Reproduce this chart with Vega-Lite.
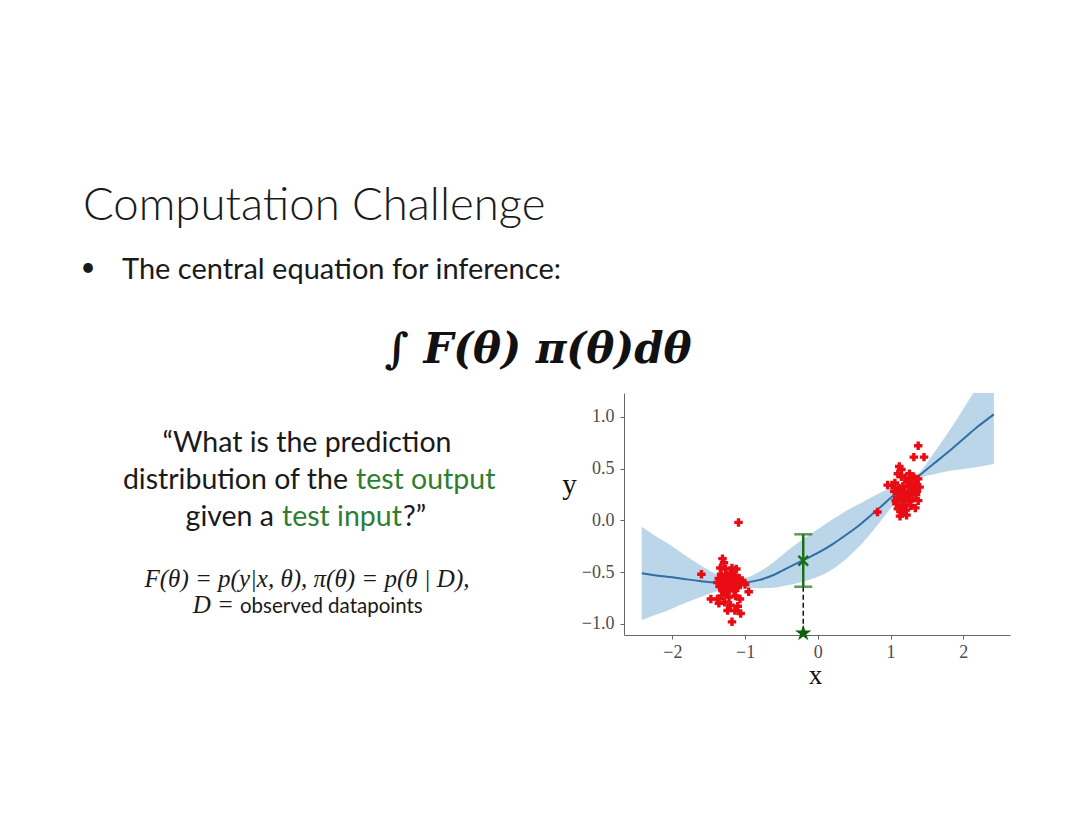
{
  "$schema": "https://vega.github.io/schema/vega-lite/v6.json",
  "background": "white",
  "padding": 0,
  "config": {"view": {"stroke": null}, "axis": {"grid": false}},
  "datasets": {
    "slide": [
      {"part": "title", "text": "Computation Challenge"},
      {"part": "bullet", "text": "•"},
      {"part": "lead", "text": "The central equation for inference:"},
      {"part": "equation", "text": "∫ F(θ) π(θ)dθ"}
    ],
    "quote": [
      {"seg": "q1", "text": "“What is the prediction"},
      {"seg": "q2a", "text": "distribution of the"},
      {"seg": "q2b", "text": "test output"},
      {"seg": "q3a", "text": "given a"},
      {"seg": "q3b", "text": "test input"},
      {"seg": "q3c", "text": "?”"},
      {"seg": "f1", "text": "F(θ) = p(y|x, θ), π(θ) = p(θ | D),"},
      {"seg": "f2a", "text": "D ="},
      {"seg": "f2b", "text": "observed datapoints"}
    ],
    "band": [
      {"x": -2.42, "lo": -0.962, "mean": -0.512, "hi": -0.062},
      {"x": -2.2, "lo": -0.905, "mean": -0.535, "hi": -0.165},
      {"x": -2.0, "lo": -0.85, "mean": -0.55, "hi": -0.25},
      {"x": -1.8, "lo": -0.79, "mean": -0.57, "hi": -0.35},
      {"x": -1.6, "lo": -0.738, "mean": -0.588, "hi": -0.438},
      {"x": -1.4, "lo": -0.688, "mean": -0.603, "hi": -0.518},
      {"x": -1.2, "lo": -0.653, "mean": -0.608, "hi": -0.563},
      {"x": -1.0, "lo": -0.645, "mean": -0.6, "hi": -0.555},
      {"x": -0.8, "lo": -0.655, "mean": -0.575, "hi": -0.495},
      {"x": -0.6, "lo": -0.65, "mean": -0.525, "hi": -0.4},
      {"x": -0.4, "lo": -0.625, "mean": -0.455, "hi": -0.285},
      {"x": -0.2, "lo": -0.59, "mean": -0.385, "hi": -0.18},
      {"x": 0.0, "lo": -0.545, "mean": -0.315, "hi": -0.085},
      {"x": 0.2, "lo": -0.472, "mean": -0.232, "hi": 0.008},
      {"x": 0.4, "lo": -0.365, "mean": -0.135, "hi": 0.095},
      {"x": 0.6, "lo": -0.23, "mean": -0.03, "hi": 0.17},
      {"x": 0.8, "lo": -0.065, "mean": 0.09, "hi": 0.245},
      {"x": 1.0, "lo": 0.115, "mean": 0.215, "hi": 0.315},
      {"x": 1.2, "lo": 0.28, "mean": 0.33, "hi": 0.38},
      {"x": 1.4, "lo": 0.405, "mean": 0.435, "hi": 0.465},
      {"x": 1.6, "lo": 0.445, "mean": 0.55, "hi": 0.655},
      {"x": 1.8, "lo": 0.475, "mean": 0.665, "hi": 0.855},
      {"x": 2.0, "lo": 0.495, "mean": 0.785, "hi": 1.075},
      {"x": 2.2, "lo": 0.515, "mean": 0.905, "hi": 1.295},
      {"x": 2.42, "lo": 0.543, "mean": 1.023, "hi": 1.503}
    ],
    "train": [
      {"x": -1.09, "y": -0.02}, {"x": -1.6, "y": -0.52}, {"x": -1.31, "y": -0.37}, {"x": -1.29, "y": -0.41},
      {"x": -1.34, "y": -0.46}, {"x": -1.27, "y": -0.47}, {"x": -1.18, "y": -0.46}, {"x": -1.12, "y": -0.47},
      {"x": -1.33, "y": -0.52}, {"x": -1.25, "y": -0.53}, {"x": -1.2, "y": -0.51}, {"x": -1.14, "y": -0.53},
      {"x": -1.36, "y": -0.56}, {"x": -1.3, "y": -0.57}, {"x": -1.22, "y": -0.56}, {"x": -1.16, "y": -0.58},
      {"x": -1.08, "y": -0.56}, {"x": -1.04, "y": -0.58}, {"x": -1.38, "y": -0.6}, {"x": -1.32, "y": -0.61},
      {"x": -1.27, "y": -0.62}, {"x": -1.21, "y": -0.6}, {"x": -1.13, "y": -0.61}, {"x": -1.06, "y": -0.6},
      {"x": -1.0, "y": -0.62}, {"x": -1.35, "y": -0.64}, {"x": -1.29, "y": -0.66}, {"x": -1.24, "y": -0.65},
      {"x": -1.18, "y": -0.64}, {"x": -1.1, "y": -0.65}, {"x": -0.95, "y": -0.69}, {"x": -1.31, "y": -0.68},
      {"x": -1.26, "y": -0.7}, {"x": -1.15, "y": -0.68}, {"x": -1.47, "y": -0.76}, {"x": -1.38, "y": -0.76},
      {"x": -1.36, "y": -0.8}, {"x": -1.22, "y": -0.74}, {"x": -1.13, "y": -0.73}, {"x": -1.07, "y": -0.76},
      {"x": -1.28, "y": -0.79}, {"x": -1.2, "y": -0.82}, {"x": -1.1, "y": -0.83}, {"x": -1.24, "y": -0.87},
      {"x": -1.14, "y": -0.87}, {"x": -1.06, "y": -0.9}, {"x": -1.18, "y": -0.98}, {"x": -1.32, "y": -0.73},
      {"x": -1.28, "y": -0.58}, {"x": -1.23, "y": -0.68},
      {"x": 1.38, "y": 0.72}, {"x": 1.32, "y": 0.61}, {"x": 1.46, "y": 0.61}, {"x": 1.12, "y": 0.52},
      {"x": 1.15, "y": 0.49}, {"x": 1.1, "y": 0.45}, {"x": 0.96, "y": 0.34}, {"x": 1.02, "y": 0.34},
      {"x": 1.06, "y": 0.36}, {"x": 0.82, "y": 0.08}, {"x": 1.13, "y": 0.04}, {"x": 1.16, "y": 0.07},
      {"x": 1.1, "y": 0.11}, {"x": 1.2, "y": 0.41}, {"x": 1.26, "y": 0.4}, {"x": 1.32, "y": 0.42},
      {"x": 1.38, "y": 0.4}, {"x": 1.23, "y": 0.37}, {"x": 1.29, "y": 0.36}, {"x": 1.35, "y": 0.35},
      {"x": 1.17, "y": 0.33}, {"x": 1.11, "y": 0.31}, {"x": 1.25, "y": 0.32}, {"x": 1.32, "y": 0.3},
      {"x": 1.4, "y": 0.32}, {"x": 1.19, "y": 0.28}, {"x": 1.14, "y": 0.26}, {"x": 1.27, "y": 0.27},
      {"x": 1.35, "y": 0.25}, {"x": 1.09, "y": 0.22}, {"x": 1.22, "y": 0.23}, {"x": 1.3, "y": 0.21},
      {"x": 1.16, "y": 0.19}, {"x": 1.24, "y": 0.18}, {"x": 1.38, "y": 0.19}, {"x": 1.08, "y": 0.16},
      {"x": 1.19, "y": 0.14}, {"x": 1.28, "y": 0.14}, {"x": 1.12, "y": 0.12}, {"x": 1.21, "y": 0.1},
      {"x": 1.34, "y": 0.12}, {"x": 1.05, "y": 0.28}, {"x": 1.26, "y": 0.45}, {"x": 1.15, "y": 0.42},
      {"x": 1.3, "y": 0.26}, {"x": 1.18, "y": 0.2}, {"x": 1.36, "y": 0.28}, {"x": 1.22, "y": 0.05},
      {"x": 1.07, "y": 0.19}
    ],
    "test": [
      {"x": -0.2, "mean": -0.39, "lo": -0.641, "hi": -0.135, "truth": -1.09}
    ]
  },
  "spacing": 0,
  "bounds": "flush",
  "vconcat": [
    {
      "width": 1080,
      "height": 393,
      "resolve": {"scale": {"x": "independent", "y": "independent"}},
      "layer": [
        {
          "data": {"name": "slide"},
          "transform": [{"filter": "datum.part == 'title'"}],
          "mark": {"type": "text", "align": "left", "baseline": "alphabetic", "font": "Lato", "fontWeight": 300, "fontSize": 45.5, "color": "#1a1a1a"},
          "encoding": {
            "text": {"field": "text", "type": "nominal"},
            "x": {"field": "part", "type": "nominal", "axis": null, "scale": {"type": "point", "range": [83, 83]}},
            "y": {"field": "part", "type": "nominal", "axis": null, "scale": {"type": "point", "range": [220, 220]}}
          }
        },
        {
          "data": {"name": "slide"},
          "transform": [{"filter": "datum.part == 'bullet'"}],
          "mark": {"type": "text", "align": "center", "baseline": "alphabetic", "font": "Lato", "fontSize": 26, "color": "#1a1a1a"},
          "encoding": {
            "text": {"field": "text", "type": "nominal"},
            "x": {"field": "part", "type": "nominal", "axis": null, "scale": {"type": "point", "range": [88, 88]}},
            "y": {"field": "part", "type": "nominal", "axis": null, "scale": {"type": "point", "range": [276, 276]}}
          }
        },
        {
          "data": {"name": "slide"},
          "transform": [{"filter": "datum.part == 'lead'"}],
          "mark": {"type": "text", "align": "left", "baseline": "alphabetic", "font": "Lato", "fontSize": 29, "color": "#1a1a1a"},
          "encoding": {
            "text": {"field": "text", "type": "nominal"},
            "x": {"field": "part", "type": "nominal", "axis": null, "scale": {"type": "point", "range": [122, 122]}},
            "y": {"field": "part", "type": "nominal", "axis": null, "scale": {"type": "point", "range": [279, 279]}}
          }
        },
        {
          "data": {"name": "slide"},
          "transform": [{"filter": "datum.part == 'equation'"}],
          "mark": {"type": "text", "align": "center", "baseline": "alphabetic", "font": "DejaVu Serif", "fontStyle": "italic", "fontWeight": "bold", "fontSize": 42, "color": "#111"},
          "encoding": {
            "text": {"field": "text", "type": "nominal"},
            "x": {"field": "part", "type": "nominal", "axis": null, "scale": {"type": "point", "range": [538, 538]}},
            "y": {"field": "part", "type": "nominal", "axis": null, "scale": {"type": "point", "range": [363, 363]}}
          }
        }
      ]
    },
    {
      "spacing": 10,
      "bounds": "flush",
      "hconcat": [
        {
          "width": 614,
          "height": 242,
          "resolve": {"scale": {"x": "independent", "y": "independent"}},
          "layer": [
            {
              "data": {"name": "quote"},
              "transform": [{"filter": "datum.seg == 'q1'"}],
              "mark": {"type": "text", "align": "center", "baseline": "alphabetic", "font": "Lato", "fontSize": 28.5, "color": "#1a1a1a"},
              "encoding": {
                "text": {"field": "text", "type": "nominal"},
                "x": {"field": "seg", "type": "nominal", "axis": null, "scale": {"type": "point", "range": [307, 307]}},
                "y": {"field": "seg", "type": "nominal", "axis": null, "scale": {"type": "point", "range": [59, 59]}}
              }
            },
            {
              "data": {"name": "quote"},
              "transform": [{"filter": "datum.seg == 'q2a'"}],
              "mark": {"type": "text", "align": "right", "baseline": "alphabetic", "font": "Lato", "fontSize": 28.5, "color": "#1a1a1a"},
              "encoding": {
                "text": {"field": "text", "type": "nominal"},
                "x": {"field": "seg", "type": "nominal", "axis": null, "scale": {"type": "point", "range": [348, 348]}},
                "y": {"field": "seg", "type": "nominal", "axis": null, "scale": {"type": "point", "range": [96, 96]}}
              }
            },
            {
              "data": {"name": "quote"},
              "transform": [{"filter": "datum.seg == 'q2b'"}],
              "mark": {"type": "text", "align": "left", "baseline": "alphabetic", "font": "Lato", "fontSize": 28.5, "color": "#2e7d32"},
              "encoding": {
                "text": {"field": "text", "type": "nominal"},
                "x": {"field": "seg", "type": "nominal", "axis": null, "scale": {"type": "point", "range": [356, 356]}},
                "y": {"field": "seg", "type": "nominal", "axis": null, "scale": {"type": "point", "range": [96, 96]}}
              }
            },
            {
              "data": {"name": "quote"},
              "transform": [{"filter": "datum.seg == 'q3a'"}],
              "mark": {"type": "text", "align": "right", "baseline": "alphabetic", "font": "Lato", "fontSize": 28.5, "color": "#1a1a1a"},
              "encoding": {
                "text": {"field": "text", "type": "nominal"},
                "x": {"field": "seg", "type": "nominal", "axis": null, "scale": {"type": "point", "range": [274, 274]}},
                "y": {"field": "seg", "type": "nominal", "axis": null, "scale": {"type": "point", "range": [133, 133]}}
              }
            },
            {
              "data": {"name": "quote"},
              "transform": [{"filter": "datum.seg == 'q3b'"}],
              "mark": {"type": "text", "align": "left", "baseline": "alphabetic", "font": "Lato", "fontSize": 28.5, "color": "#2e7d32"},
              "encoding": {
                "text": {"field": "text", "type": "nominal"},
                "x": {"field": "seg", "type": "nominal", "axis": null, "scale": {"type": "point", "range": [282, 282]}},
                "y": {"field": "seg", "type": "nominal", "axis": null, "scale": {"type": "point", "range": [133, 133]}}
              }
            },
            {
              "data": {"name": "quote"},
              "transform": [{"filter": "datum.seg == 'q3c'"}],
              "mark": {"type": "text", "align": "left", "baseline": "alphabetic", "font": "Lato", "fontSize": 28.5, "color": "#1a1a1a"},
              "encoding": {
                "text": {"field": "text", "type": "nominal"},
                "x": {"field": "seg", "type": "nominal", "axis": null, "scale": {"type": "point", "range": [403, 403]}},
                "y": {"field": "seg", "type": "nominal", "axis": null, "scale": {"type": "point", "range": [133, 133]}}
              }
            },
            {
              "data": {"name": "quote"},
              "transform": [{"filter": "datum.seg == 'f1'"}],
              "mark": {"type": "text", "align": "center", "baseline": "alphabetic", "font": "Liberation Serif", "fontStyle": "italic", "fontSize": 25, "color": "#1a1a1a"},
              "encoding": {
                "text": {"field": "text", "type": "nominal"},
                "x": {"field": "seg", "type": "nominal", "axis": null, "scale": {"type": "point", "range": [307, 307]}},
                "y": {"field": "seg", "type": "nominal", "axis": null, "scale": {"type": "point", "range": [194, 194]}}
              }
            },
            {
              "data": {"name": "quote"},
              "transform": [{"filter": "datum.seg == 'f2a'"}],
              "mark": {"type": "text", "align": "right", "baseline": "alphabetic", "font": "Liberation Serif", "fontStyle": "italic", "fontSize": 25, "color": "#1a1a1a"},
              "encoding": {
                "text": {"field": "text", "type": "nominal"},
                "x": {"field": "seg", "type": "nominal", "axis": null, "scale": {"type": "point", "range": [234, 234]}},
                "y": {"field": "seg", "type": "nominal", "axis": null, "scale": {"type": "point", "range": [220, 220]}}
              }
            },
            {
              "data": {"name": "quote"},
              "transform": [{"filter": "datum.seg == 'f2b'"}],
              "mark": {"type": "text", "align": "left", "baseline": "alphabetic", "font": "Lato", "fontSize": 20.5, "color": "#1a1a1a"},
              "encoding": {
                "text": {"field": "text", "type": "nominal"},
                "x": {"field": "seg", "type": "nominal", "axis": null, "scale": {"type": "point", "range": [240, 240]}},
                "y": {"field": "seg", "type": "nominal", "axis": null, "scale": {"type": "point", "range": [220, 220]}}
              }
            }
          ]
        },
        {
          "width": 386,
          "height": 242,
          "layer": [
            {
              "data": {"name": "band"},
              "mark": {"type": "area", "color": "#1f77b4", "opacity": 0.3, "clip": true, "interpolate": "monotone"},
              "encoding": {
                "x": {
                  "field": "x", "type": "quantitative", "title": "x",
                  "scale": {"domain": [-2.664, 2.642], "nice": false, "zero": false},
                  "axis": {"values": [-2, -1, 0, 1, 2], "format": "d", "labelFont": "Liberation Serif", "labelFontSize": 18, "labelColor": "#4d4d4d", "tickColor": "#666666", "domainColor": "#666666", "tickSize": 4, "labelPadding": 4, "title": "x", "titleFont": "Liberation Serif", "titleFontSize": 27, "titleFontWeight": "normal", "titleColor": "#111111", "titleBaseline": "alphabetic", "titleAlign": "center", "titleX": 191, "titleY": 48}
                },
                "y": {
                  "field": "lo", "type": "quantitative", "title": "y",
                  "scale": {"domain": [-1.107, 1.229], "nice": false, "zero": false},
                  "axis": {"values": [-1, -0.5, 0, 0.5, 1], "format": ".1f", "labelFont": "Liberation Serif", "labelFontSize": 18, "labelColor": "#4d4d4d", "tickColor": "#666666", "domainColor": "#666666", "tickSize": 4, "labelPadding": 6, "title": "y", "titleFont": "Liberation Serif", "titleFontSize": 29, "titleFontWeight": "normal", "titleColor": "#111111", "titleAngle": 0, "titleBaseline": "alphabetic", "titleAlign": "center", "titleX": -55, "titleY": 100}
                },
                "y2": {"field": "hi"}
              }
            },
            {
              "data": {"name": "band"},
              "mark": {"type": "line", "color": "#2f6ea6", "strokeWidth": 2, "interpolate": "monotone", "clip": true},
              "encoding": {
                "x": {"field": "x", "type": "quantitative", "title": "x"},
                "y": {"field": "mean", "type": "quantitative", "title": "y"}
              }
            },
            {
              "data": {"name": "train"},
              "mark": {"type": "point", "shape": "cross", "filled": true, "size": 72, "color": "#e80c14", "opacity": 1},
              "encoding": {
                "x": {"field": "x", "type": "quantitative", "title": "x"},
                "y": {"field": "y", "type": "quantitative", "title": "y"}
              }
            },
            {
              "data": {"name": "test"},
              "mark": {"type": "rule", "color": "#111111", "strokeWidth": 1.5, "strokeDash": [5, 3]},
              "encoding": {
                "x": {"field": "x", "type": "quantitative", "title": "x"},
                "y": {"field": "lo", "type": "quantitative", "title": "y"},
                "y2": {"field": "truth"}
              }
            },
            {
              "data": {"name": "test"},
              "mark": {"type": "rule", "color": "#1b6f1b", "strokeWidth": 2.5},
              "encoding": {
                "x": {"field": "x", "type": "quantitative", "title": "x"},
                "y": {"field": "lo", "type": "quantitative", "title": "y"},
                "y2": {"field": "hi"}
              }
            },
            {
              "data": {"name": "test"},
              "mark": {"type": "tick", "orient": "horizontal", "color": "#1b6f1b", "size": 18, "thickness": 2.5},
              "encoding": {
                "x": {"field": "x", "type": "quantitative", "title": "x"},
                "y": {"field": "lo", "type": "quantitative", "title": "y"}
              }
            },
            {
              "data": {"name": "test"},
              "mark": {"type": "tick", "orient": "horizontal", "color": "#1b6f1b", "size": 18, "thickness": 2.5},
              "encoding": {
                "x": {"field": "x", "type": "quantitative", "title": "x"},
                "y": {"field": "hi", "type": "quantitative", "title": "y"}
              }
            },
            {
              "data": {"name": "test"},
              "mark": {"type": "point", "shape": "M-1,-0.7L-0.7,-1L0,-0.3L0.7,-1L1,-0.7L0.3,0L1,0.7L0.7,1L0,0.3L-0.7,1L-1,0.7L-0.3,0Z", "filled": true, "size": 130, "color": "#1b6f1b", "opacity": 1},
              "encoding": {
                "x": {"field": "x", "type": "quantitative", "title": "x"},
                "y": {"field": "mean", "type": "quantitative", "title": "y"}
              }
            },
            {
              "data": {"name": "test"},
              "mark": {"type": "point", "shape": "M0,-1L0.2245,-0.309L0.951,-0.309L0.363,0.118L0.588,0.809L0,0.382L-0.588,0.809L-0.363,0.118L-0.951,-0.309L-0.2245,-0.309Z", "filled": true, "size": 300, "color": "#0f5f0f", "opacity": 1},
              "encoding": {
                "x": {"field": "x", "type": "quantitative", "title": "x"},
                "y": {"field": "truth", "type": "quantitative", "title": "y"}
              }
            }
          ]
        }
      ]
    }
  ]
}
